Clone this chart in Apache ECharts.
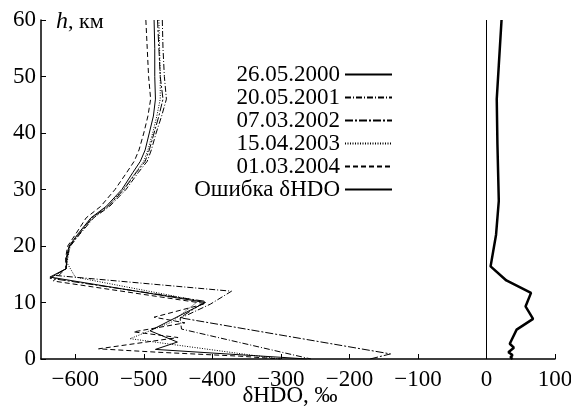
<!DOCTYPE html>
<html>
<head>
<meta charset="utf-8">
<script src="https://cdn.jsdelivr.net/npm/echarts/dist/echarts.min.js"></script>
<style>
  html, body { margin: 0; padding: 0; background: #fff; }
  #chart { width: 571px; height: 410px; }
</style>
</head>
<body>
<div id="chart"></div>
<script>
// profiles: [δHDO ‰, h km]
const s2000 = [[-485, 60], [-484, 55], [-484, 50], [-483, 46], [-486, 43], [-492, 40], [-498, 37], [-505, 35], [-516, 33], [-532, 30], [-555, 27], [-577, 25], [-597, 22], [-609, 20], [-613, 18], [-613, 16],
  [-637, 14.5], [-410, 10], [-491, 5.0], [-451, 3.0], [-483, 1.7], [-380, 0.9], [-300, 0.3], [-262, 0]];
const s2001 = [[-473, 60], [-472, 55], [-470, 50], [-467, 46], [-474, 43], [-482, 40], [-489, 37], [-495, 35], [-508, 33], [-526, 30], [-550, 27], [-573, 25], [-594, 22], [-607, 20], [-612, 18], [-613, 16],
  [-630, 14.8], [-372, 12], [-403, 9.7], [-447, 7.2], [-445, 5.3], [-256, 0]];
const s2002 = [[-480, 60], [-478, 55], [-476, 50], [-472, 46], [-478, 43], [-485, 40], [-492, 37], [-498, 35], [-511, 33], [-529, 30], [-552, 27], [-575, 25], [-595, 22], [-608, 20], [-612, 18], [-613, 16],
  [-637, 14.3], [-410, 10.2], [-447, 7.3], [-140, 0.9], [-170, 0]];
const s2003 = [[-478, 60], [-477, 55], [-476, 50], [-476, 46], [-481, 43], [-487, 40], [-494, 37], [-500, 35], [-512, 33], [-530, 30], [-553, 27], [-576, 25], [-596, 22], [-608, 20], [-612, 17],
  [-600, 14.5], [-420, 10.3], [-460, 6.5], [-520, 3.6], [-460, 2.6], [-350, 0.8], [-300, 0]];
const s2004 = [[-497, 60], [-495, 55], [-493, 50], [-490, 46], [-494, 43], [-500, 40], [-507, 37], [-514, 35], [-525, 33], [-542, 30], [-563, 27], [-584, 25], [-600, 22], [-611, 20], [-614, 18], [-614, 16],
  [-632, 13.8], [-410, 9.8], [-485, 7.4], [-440, 6.4], [-515, 4.8], [-450, 3.8], [-566, 1.8], [-480, 1.2], [-360, 0.5], [-300, 0]];
const errorProfile = [[22, 60], [18, 52], [15, 46], [16, 38], [18, 28], [14, 22], [6, 16.4], [29, 13.9], [65, 11.7], [57, 9.3], [68, 7.1],
  [44, 5.2], [34, 2.7], [40, 2.0], [32, 1.2], [38, 0.7], [35, 0.3], [38, 0]];

const seriesNames = ['26.05.2000', '20.05.2001', '07.03.2002', '15.04.2003', '01.03.2004', 'Ошибка δHDO'];
const xTicks = [-600, -500, -400, -300, -200, -100, 0, 100];

const font = 'Liberation Serif';
const chart = echarts.init(document.getElementById('chart'));

function profile(name, data, dash, width) {
  return {
    name: name,
    type: 'line',
    data: data,
    symbol: 'none',
    silent: true,
    lineStyle: { color: '#000', width: width || 1, type: dash },
    itemStyle: { color: '#000' }
  };
}

const errSeries = profile(seriesNames[5], errorProfile, 'solid', 2.5);
errSeries.markLine = {
  symbol: 'none',
  silent: true,
  label: { show: false },
  lineStyle: { color: '#000', width: 1, type: 'solid' },
  data: [{ xAxis: 0 }]
};

chart.setOption({
  animation: false,
  backgroundColor: '#fff',
  grid: { left: 41, right: 16, top: 20, bottom: 51, outerBoundsMode: 'none' },
  legend: {
    orient: 'vertical',
    align: 'right',
    right: 173,
    top: 58,
    itemWidth: 47,
    itemHeight: 14,
    itemGap: 0,
    selectedMode: false,
    itemStyle: { opacity: 0 },
    textStyle: { fontFamily: font, fontSize: 23, color: '#000' },
    data: seriesNames
  },
  xAxis: {
    type: 'value',
    min: -650,
    max: 100,
    axisLine: { onZero: false, lineStyle: { color: '#000', width: 1.5 } },
    axisTick: { inside: true, length: 5, customValues: xTicks, lineStyle: { color: '#000' } },
    axisLabel: {
      customValues: xTicks,
      fontFamily: font, fontSize: 23, color: '#000', margin: 9,
      formatter: v => String(v).replace('-', '\u2212')
    },
    splitLine: { show: false }
  },
  yAxis: {
    type: 'value',
    min: 0,
    max: 60,
    interval: 10,
    axisLine: { show: true, onZero: false, lineStyle: { color: '#000', width: 1.5 } },
    axisTick: { inside: true, length: 5, lineStyle: { color: '#000' } },
    axisLabel: { fontFamily: font, fontSize: 23, color: '#000', margin: 5 },
    splitLine: { show: false }
  },
  graphic: [{
    type: 'text',
    left: 56,
    top: 10,
    style: {
      text: '{i|h}, км',
      fontFamily: font,
      fontSize: 22,
      fill: '#000',
      rich: { i: { fontStyle: 'italic', fontFamily: font, fontSize: 24 } }
    }
  }, {
    type: 'text',
    x: 290,
    y: 396,
    style: {
      text: 'δHDO, ‰',
      fontFamily: font,
      fontSize: 23,
      fill: '#000',
      align: 'center',
      verticalAlign: 'middle'
    }
  }],
  series: [
    profile(seriesNames[0], s2000, 'solid'),
    profile(seriesNames[1], s2001, [6, 2, 1, 2]),
    profile(seriesNames[2], s2002, [8, 2, 2, 2]),
    profile(seriesNames[3], s2003, [1, 1.5]),
    profile(seriesNames[4], s2004, [5, 3]),
    errSeries
  ]
});
</script>
</body>
</html>
